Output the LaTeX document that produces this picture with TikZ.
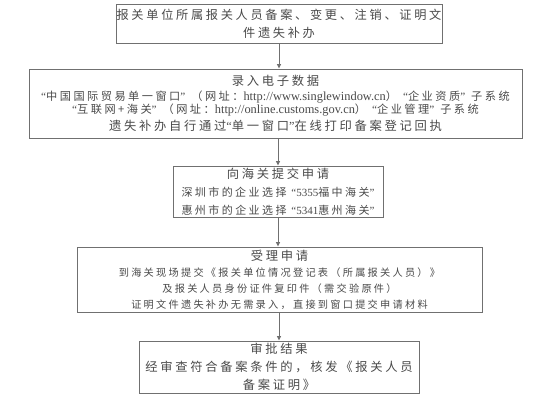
\documentclass[tikz,border=0pt]{standalone}
\usepackage{fontspec}
\setmainfont{Noto Sans CJK SC}[LetterSpace=22]
\newfontfamily\latf{Liberation Serif}
\usetikzlibrary{arrows.meta}
\definecolor{txt}{HTML}{4A4A4A}
\definecolor{ln}{HTML}{707070}
\newcommand\La[1]{{\latf #1}}
\newcommand\fbig{\fontsize{12.3}{18}\selectfont}
\newcommand\furl{\fontsize{12.4}{13}\selectfont}
\newcommand\gp{\hspace{6pt}}
\tikzset{
  box/.style={draw=ln, line width=0.9pt, text=txt, align=center, inner sep=0pt, fill=white},
  arr/.style={draw=ln, line width=0.9pt, -{Triangle[length=4.5pt,width=4pt]}}
}
\begin{document}
\begin{tikzpicture}[x=1pt,y=-1pt]
\useasboundingbox[fill=white] (0,0) rectangle (552,400);
\node[box, minimum width=326, minimum height=39, font=\fontsize{12.2}{18}\selectfont] (b1) at (279,23.5)
  {报关单位所属报关人员备案、变更、注销、证明文\\件遗失补办};
\node[box, minimum width=493, minimum height=69, font=\fontsize{11.2}{13}\selectfont] (b2) at (275.5,103.5)
  {{\fbig 录入电子数据}\\[2pt]
   \La{“}中国国际贸易单一窗口\La{”}\gp（网址：\La{\furl http://www.singlewindow.cn}）\gp\La{“}企业资质\La{”}\gp 子系统\\
   \La{“}互联网+海关\La{”}\gp（网址：\La{\furl http://online.customs.gov.cn}）\gp\La{“}企业管理\La{”}\gp 子系统\\[3pt]
   {\fbig 遗失补办自行通过\La{“}单一窗口\La{”}在线打印备案登记回执}};
\node[box, minimum width=210, minimum height=51, font=\fontsize{11}{18}\selectfont] (b3) at (278,191.5)
  {{\fbig 向海关提交申请}\\
   深圳市的企业选择 \La{“5355}福中海关\La{”}\\
   惠州市的企业选择 \La{“5341}惠州海关\La{”}};
\node[box, minimum width=405, minimum height=65, font=\fontsize{10.2}{16}\selectfont] (b4) at (279.5,279.5)
  {{\fbig 受理申请}\\
   到海关现场提交《报关单位情况登记表（所属报关人员）》\\
   及报关人员身份证件复印件（需交验原件）\\
   证明文件遗失补办无需录入，直接到窗口提交申请材料};
\node[box, minimum width=280, minimum height=52, font=\fontsize{12.3}{18}\selectfont] (b5) at (279,367)
  {审批结果\\
   经审查符合备案条件的，核发《报关人员\\
   备案证明》};
\draw[arr] (b1.south) -- (b1.south |- b2.north);
\draw[arr] (b3.north |- b2.south) -- (b3.north);
\draw[arr] (b3.south) -- (b3.south |- b4.north);
\draw[arr] (b4.south -| b5.north) -- (b5.north);
\end{tikzpicture}
\end{document}
